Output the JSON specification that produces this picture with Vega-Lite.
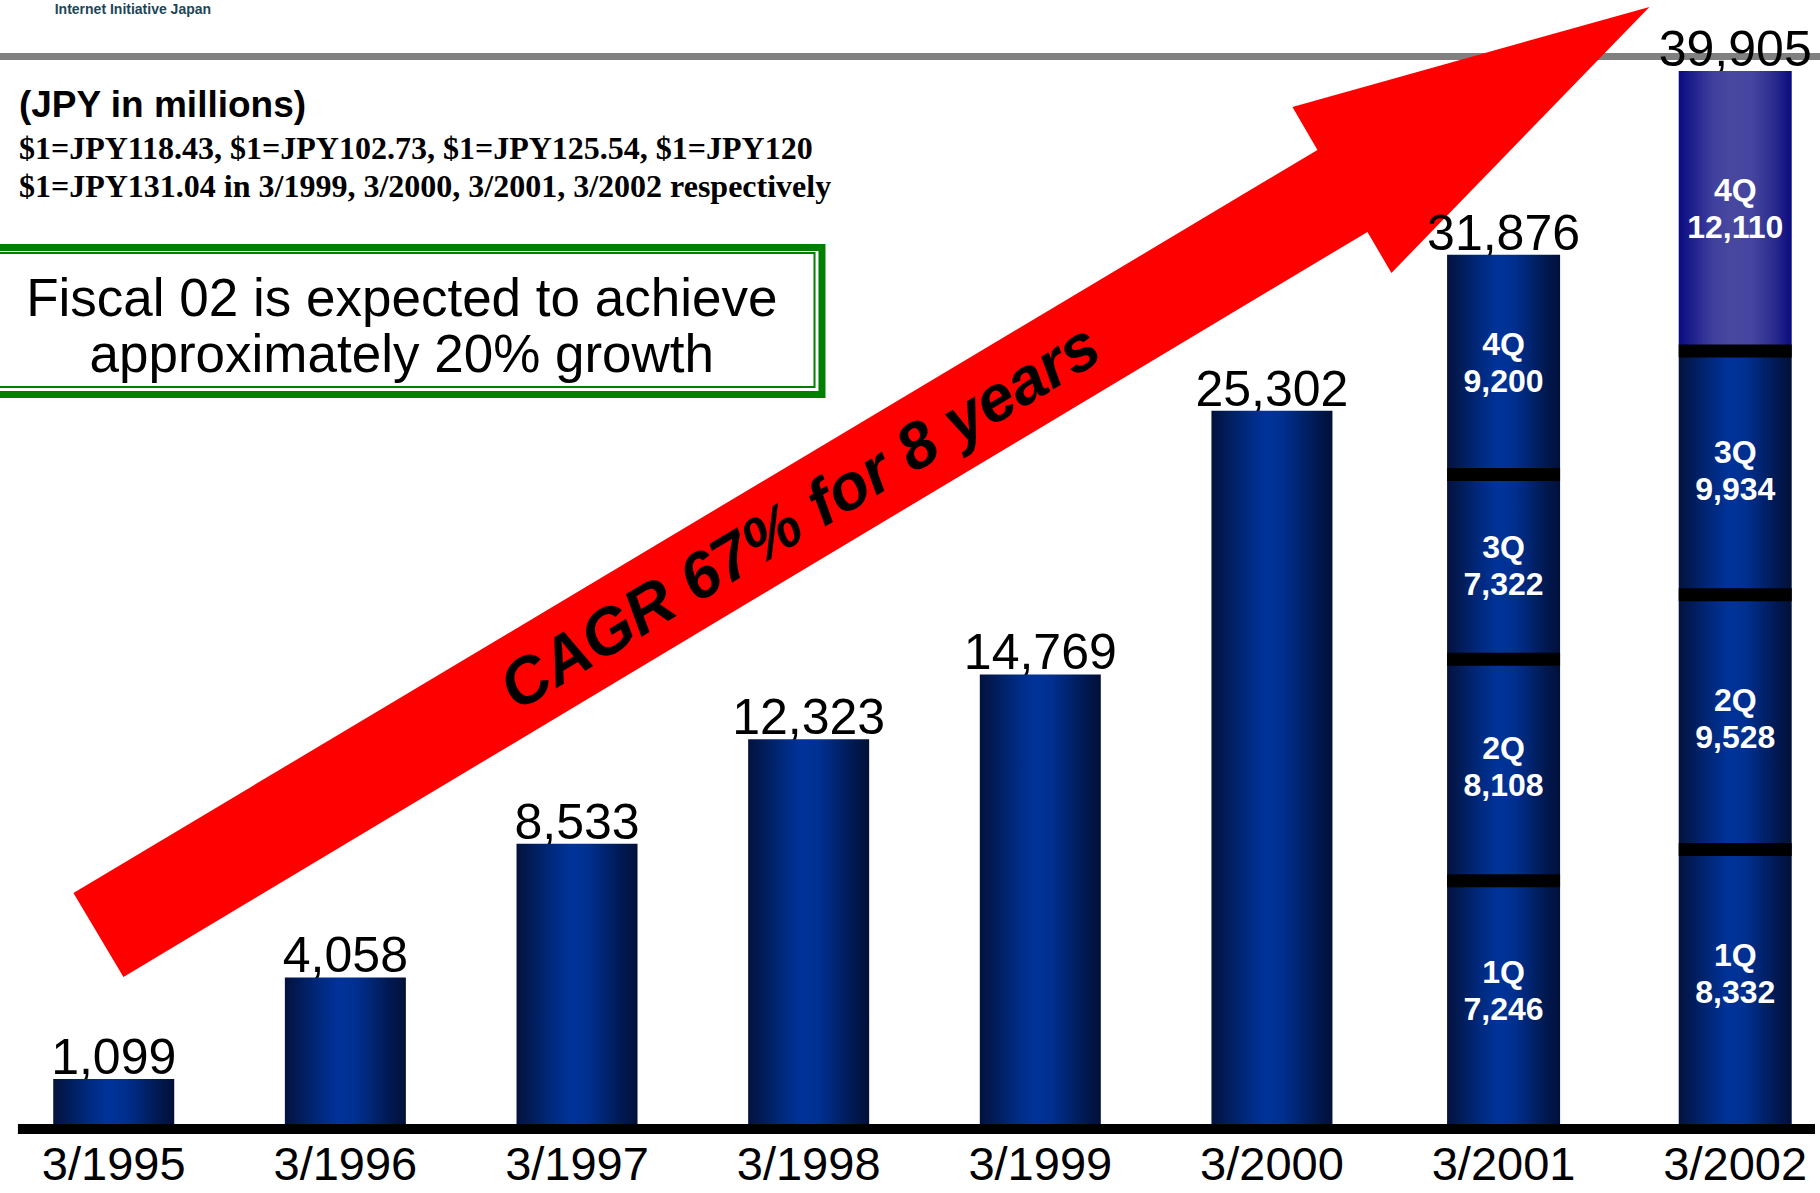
{
  "$schema": "https://vega.github.io/schema/vega-lite/v6.json",
  "width": 1820,
  "height": 1129,
  "autosize": {"type": "none"},
  "padding": {"left": 0, "top": 0, "right": 0, "bottom": 64},
  "background": "white",
  "config": {"view": {"stroke": null}, "font": "Liberation Sans"},
  "datasets": {
    "annual": [
      {"year": 1995, "period": "3/1995", "revenue": 1099},
      {"year": 1996, "period": "3/1996", "revenue": 4058},
      {"year": 1997, "period": "3/1997", "revenue": 8533},
      {"year": 1998, "period": "3/1998", "revenue": 12323},
      {"year": 1999, "period": "3/1999", "revenue": 14769},
      {"year": 2000, "period": "3/2000", "revenue": 25302},
      {"year": 2001, "period": "3/2001", "revenue": 31876},
      {"year": 2002, "period": "3/2002", "revenue": 39905}
    ],
    "quarterly": [
      {"year": 2001, "quarter": "1Q", "revenue": 7246},
      {"year": 2001, "quarter": "2Q", "revenue": 8108},
      {"year": 2001, "quarter": "3Q", "revenue": 7322},
      {"year": 2001, "quarter": "4Q", "revenue": 9200},
      {"year": 2002, "quarter": "1Q", "revenue": 8332},
      {"year": 2002, "quarter": "2Q", "revenue": 9528},
      {"year": 2002, "quarter": "3Q", "revenue": 9934},
      {"year": 2002, "quarter": "4Q", "revenue": 12110}
    ]
  },
  "layer": [
    {
      "data": {"values": [{}]},
      "mark": {"type": "rule", "color": "#808080", "strokeWidth": 7},
      "encoding": {
        "y": {"datum": 40546, "type": "quantitative", "scale": {"type": "pow", "exponent": 0.85, "domain": [0, 43070], "nice": false, "zero": true}, "axis": null}
      }
    },
    {
      "data": {"values": [{}]},
      "mark": {"type": "text", "text": "Internet Initiative Japan", "font": "Liberation Sans", "fontWeight": "bold", "fontSize": 14, "color": "#1c4658", "align": "left", "baseline": "alphabetic"},
      "encoding": {
        "x": {"datum": 1994.7452, "type": "quantitative", "scale": {"domain": [1994.5306, 2002.3444], "nice": false, "zero": false}, "axis": null},
        "y": {"datum": 42443, "type": "quantitative", "scale": {"type": "pow", "exponent": 0.85, "domain": [0, 43070], "nice": false, "zero": true}, "axis": null}
      }
    },
    {
      "data": {"values": [{}]},
      "mark": {"type": "point", "shape": "M -25 -42 L 1219 -785 L 1194 -828 L 1551 -928 L 1293 -662 L 1269 -703 L 25 42 Z", "size": 4, "filled": true, "fill": "#ff0000", "color": "#ff0000", "opacity": 1, "strokeWidth": 0},
      "encoding": {
        "x": {"datum": 1994.934, "type": "quantitative", "scale": {"domain": [1994.5306, 2002.3444], "nice": false, "zero": false}, "axis": null},
        "y": {"datum": 5426, "type": "quantitative", "scale": {"type": "pow", "exponent": 0.85, "domain": [0, 43070], "nice": false, "zero": true}, "axis": null}
      }
    },
    {
      "data": {"name": "annual"},
      "mark": {"type": "text", "font": "Liberation Sans", "fontSize": 50, "color": "black", "align": "center", "baseline": "alphabetic", "dy": -5},
      "encoding": {
        "x": {"field": "year", "type": "quantitative", "scale": {"domain": [1994.5306, 2002.3444], "nice": false, "zero": false}, "axis": null},
        "y": {"field": "revenue", "type": "quantitative", "stack": null, "scale": {"type": "pow", "exponent": 0.85, "domain": [0, 43070], "nice": false, "zero": true}, "axis": null},
        "text": {"field": "revenue", "type": "quantitative", "format": ","}
      }
    },
    {
      "data": {"name": "annual"},
      "transform": [{"filter": "datum.year <= 2000"}],
      "mark": {
        "type": "bar", "orient": "vertical", "width": 121,
        "fill": {"gradient": "linear", "x1": 0, "y1": 0, "x2": 1, "y2": 0, "stops": [
          {"offset": 0, "color": "#03123d"}, {"offset": 0.3, "color": "#002a80"}, {"offset": 0.45, "color": "#00339a"},
          {"offset": 0.6, "color": "#002f8f"}, {"offset": 0.85, "color": "#001a55"}, {"offset": 1, "color": "#021038"}]}
      },
      "encoding": {
        "x": {"field": "year", "type": "quantitative", "scale": {"domain": [1994.5306, 2002.3444], "nice": false, "zero": false}, "axis": null},
        "y": {"field": "revenue", "type": "quantitative", "stack": null, "scale": {"type": "pow", "exponent": 0.85, "domain": [0, 43070], "nice": false, "zero": true}, "axis": null}
      }
    },
    {
      "data": {"name": "quarterly"},
      "transform": [
        {"stack": "revenue", "groupby": ["year"], "sort": [{"field": "quarter", "order": "ascending"}], "as": ["v0", "v1"]},
        {"filter": "!(datum.year === 2002 && datum.quarter === '4Q')"}
      ],
      "mark": {
        "type": "bar", "orient": "vertical", "width": 113,
        "fill": {"gradient": "linear", "x1": 0, "y1": 0, "x2": 1, "y2": 0, "stops": [
          {"offset": 0, "color": "#03123d"}, {"offset": 0.3, "color": "#002a80"}, {"offset": 0.45, "color": "#00339a"},
          {"offset": 0.6, "color": "#002f8f"}, {"offset": 0.85, "color": "#001a55"}, {"offset": 1, "color": "#021038"}]}
      },
      "encoding": {
        "x": {"field": "year", "type": "quantitative", "scale": {"domain": [1994.5306, 2002.3444], "nice": false, "zero": false}, "axis": null},
        "y": {"field": "v1", "type": "quantitative", "scale": {"type": "pow", "exponent": 0.85, "domain": [0, 43070], "nice": false, "zero": true}, "axis": null},
        "y2": {"field": "v0"}
      }
    },
    {
      "data": {"name": "quarterly"},
      "transform": [
        {"stack": "revenue", "groupby": ["year"], "sort": [{"field": "quarter", "order": "ascending"}], "as": ["v0", "v1"]},
        {"filter": "datum.year === 2002 && datum.quarter === '4Q'"}
      ],
      "mark": {
        "type": "bar", "orient": "vertical", "width": 113,
        "fill": {"gradient": "linear", "x1": 0, "y1": 0, "x2": 1, "y2": 0, "stops": [
          {"offset": 0, "color": "#0a0a82"}, {"offset": 0.3, "color": "#3f3f9e"}, {"offset": 0.45, "color": "#4848a0"},
          {"offset": 0.65, "color": "#4545a0"}, {"offset": 0.85, "color": "#2a2a8c"}, {"offset": 1, "color": "#0a0a80"}]}
      },
      "encoding": {
        "x": {"field": "year", "type": "quantitative", "scale": {"domain": [1994.5306, 2002.3444], "nice": false, "zero": false}, "axis": null},
        "y": {"field": "v1", "type": "quantitative", "scale": {"type": "pow", "exponent": 0.85, "domain": [0, 43070], "nice": false, "zero": true}, "axis": null},
        "y2": {"field": "v0"}
      }
    },
    {
      "data": {"name": "quarterly"},
      "transform": [
        {"stack": "revenue", "groupby": ["year"], "sort": [{"field": "quarter", "order": "ascending"}], "as": ["v0", "v1"]},
        {"filter": "datum.quarter !== '4Q'"}
      ],
      "mark": {"type": "tick", "orient": "horizontal", "size": 113, "thickness": 13, "color": "black", "opacity": 1},
      "encoding": {
        "x": {"field": "year", "type": "quantitative", "scale": {"domain": [1994.5306, 2002.3444], "nice": false, "zero": false}, "axis": null},
        "y": {"field": "v1", "type": "quantitative", "scale": {"type": "pow", "exponent": 0.85, "domain": [0, 43070], "nice": false, "zero": true}, "axis": null}
      }
    },
    {
      "data": {"name": "quarterly"},
      "transform": [
        {"stack": "revenue", "groupby": ["year"], "sort": [{"field": "quarter", "order": "ascending"}], "as": ["v0", "v1"]},
        {"fold": ["v0", "v1"], "as": ["edge", "pos"]},
        {"aggregate": [{"op": "mean", "field": "pos", "as": "mid"}], "groupby": ["year", "quarter", "revenue"]}
      ],
      "mark": {"type": "text", "font": "Liberation Sans", "fontWeight": "bold", "fontSize": 32, "color": "white", "align": "center", "baseline": "alphabetic", "dy": -8},
      "encoding": {
        "x": {"field": "year", "type": "quantitative", "scale": {"domain": [1994.5306, 2002.3444], "nice": false, "zero": false}, "axis": null},
        "y": {"field": "mid", "type": "quantitative", "scale": {"type": "pow", "exponent": 0.85, "domain": [0, 43070], "nice": false, "zero": true}, "axis": null},
        "text": {"field": "quarter", "type": "nominal"}
      }
    },
    {
      "data": {"name": "quarterly"},
      "transform": [
        {"stack": "revenue", "groupby": ["year"], "sort": [{"field": "quarter", "order": "ascending"}], "as": ["v0", "v1"]},
        {"fold": ["v0", "v1"], "as": ["edge", "pos"]},
        {"aggregate": [{"op": "mean", "field": "pos", "as": "mid"}], "groupby": ["year", "quarter", "revenue"]}
      ],
      "mark": {"type": "text", "font": "Liberation Sans", "fontWeight": "bold", "fontSize": 32, "color": "white", "align": "center", "baseline": "alphabetic", "dy": 29},
      "encoding": {
        "x": {"field": "year", "type": "quantitative", "scale": {"domain": [1994.5306, 2002.3444], "nice": false, "zero": false}, "axis": null},
        "y": {"field": "mid", "type": "quantitative", "scale": {"type": "pow", "exponent": 0.85, "domain": [0, 43070], "nice": false, "zero": true}, "axis": null},
        "text": {"field": "revenue", "type": "quantitative", "format": ","}
      }
    },
    {
      "data": {"values": [{}]},
      "mark": {"type": "rule", "color": "black", "strokeWidth": 10},
      "encoding": {
        "x": {"datum": 1994.5864, "type": "quantitative", "scale": {"domain": [1994.5306, 2002.3444], "nice": false, "zero": false}, "axis": null},
        "x2": {"datum": 2002.3444},
        "y": {"datum": 0, "type": "quantitative", "scale": {"type": "pow", "exponent": 0.85, "domain": [0, 43070], "nice": false, "zero": true}, "axis": null}
      }
    },
    {
      "data": {"name": "annual"},
      "mark": {"type": "text", "font": "Liberation Sans", "fontSize": 47, "color": "black", "align": "center", "baseline": "alphabetic", "dy": 51},
      "encoding": {
        "x": {"field": "year", "type": "quantitative", "scale": {"domain": [1994.5306, 2002.3444], "nice": false, "zero": false}, "axis": null},
        "y": {"datum": 0, "type": "quantitative", "scale": {"type": "pow", "exponent": 0.85, "domain": [0, 43070], "nice": false, "zero": true}, "axis": null},
        "text": {"field": "period", "type": "nominal"}
      }
    },
    {
      "data": {"values": [{}]},
      "mark": {"type": "text", "text": "CAGR 67% for 8 years", "font": "Liberation Sans", "fontWeight": "bold", "fontStyle": "italic", "fontSize": 65, "color": "black", "align": "center", "baseline": "middle", "angle": -31},
      "encoding": {
        "x": {"datum": 1997.965, "type": "quantitative", "scale": {"domain": [1994.5306, 2002.3444], "nice": false, "zero": false}, "axis": null},
        "y": {"datum": 20916, "type": "quantitative", "scale": {"type": "pow", "exponent": 0.85, "domain": [0, 43070], "nice": false, "zero": true}, "axis": null}
      }
    },
    {
      "data": {"values": [{}]},
      "mark": {"type": "text", "text": "(JPY in millions)", "font": "Liberation Sans", "fontWeight": "bold", "fontSize": 37, "color": "black", "align": "left", "baseline": "alphabetic"},
      "encoding": {
        "x": {"datum": 1994.5907, "type": "quantitative", "scale": {"domain": [1994.5306, 2002.3444], "nice": false, "zero": false}, "axis": null},
        "y": {"datum": 37868, "type": "quantitative", "scale": {"type": "pow", "exponent": 0.85, "domain": [0, 43070], "nice": false, "zero": true}, "axis": null}
      }
    },
    {
      "data": {"values": [{}]},
      "mark": {"type": "text", "text": ["$1=JPY118.43, $1=JPY102.73, $1=JPY125.54, $1=JPY120", "$1=JPY131.04 in 3/1999, 3/2000, 3/2001, 3/2002 respectively"], "lineHeight": 38, "font": "Liberation Serif", "fontWeight": "bold", "fontSize": 32, "color": "black", "align": "left", "baseline": "alphabetic"},
      "encoding": {
        "x": {"datum": 1994.5907, "type": "quantitative", "scale": {"domain": [1994.5306, 2002.3444], "nice": false, "zero": false}, "axis": null},
        "y": {"datum": 36027, "type": "quantitative", "scale": {"type": "pow", "exponent": 0.85, "domain": [0, 43070], "nice": false, "zero": true}, "axis": null}
      }
    },
    {
      "data": {"values": [{}]},
      "mark": {"type": "rect", "fill": "white", "stroke": "#007f00", "strokeWidth": 7},
      "encoding": {
        "x": {"datum": 1994.4876, "type": "quantitative", "scale": {"domain": [1994.5306, 2002.3444], "nice": false, "zero": false}, "axis": null},
        "x2": {"datum": 1998.0575},
        "y": {"datum": 32191, "type": "quantitative", "scale": {"type": "pow", "exponent": 0.85, "domain": [0, 43070], "nice": false, "zero": true}, "axis": null},
        "y2": {"datum": 25973}
      }
    },
    {
      "data": {"values": [{}]},
      "mark": {"type": "rect", "fillOpacity": 0, "stroke": "#007f00", "strokeWidth": 2},
      "encoding": {
        "x": {"datum": 1994.4876, "type": "quantitative", "scale": {"domain": [1994.5306, 2002.3444], "nice": false, "zero": false}, "axis": null},
        "x2": {"datum": 1998.0253},
        "y": {"datum": 31954, "type": "quantitative", "scale": {"type": "pow", "exponent": 0.85, "domain": [0, 43070], "nice": false, "zero": true}, "axis": null},
        "y2": {"datum": 26286}
      }
    },
    {
      "data": {"values": [{}]},
      "mark": {"type": "text", "text": ["Fiscal 02 is expected to achieve", "approximately 20% growth"], "lineHeight": 56, "font": "Liberation Sans", "fontSize": 53, "color": "black", "align": "center", "baseline": "alphabetic"},
      "encoding": {
        "x": {"datum": 1996.2436, "type": "quantitative", "scale": {"domain": [1994.5306, 2002.3444], "nice": false, "zero": false}, "axis": null},
        "y": {"datum": 29268, "type": "quantitative", "scale": {"type": "pow", "exponent": 0.85, "domain": [0, 43070], "nice": false, "zero": true}, "axis": null}
      }
    }
  ]
}
